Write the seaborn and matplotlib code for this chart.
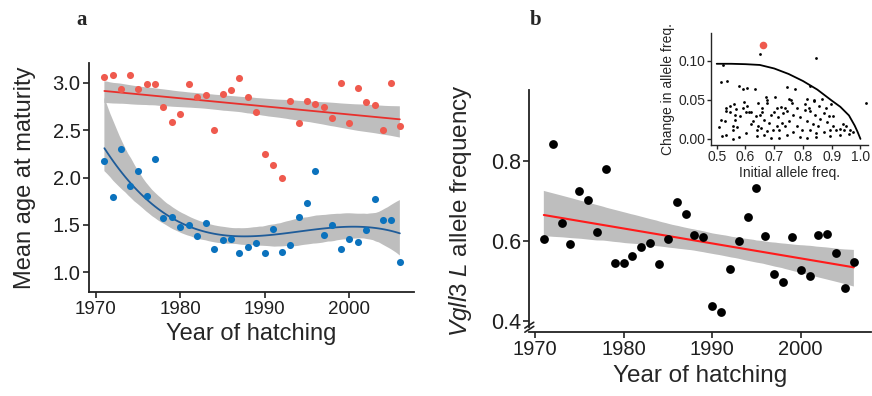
import numpy as np
import pandas as pd
import seaborn as sns
import matplotlib
matplotlib.use("Agg")
import matplotlib.pyplot as plt

sns.set_style("ticks")
plt.rcParams['font.family'] = ['Liberation Sans', 'DejaVu Sans']
plt.rcParams['mathtext.fontset'] = 'custom'
plt.rcParams['mathtext.it'] = 'Liberation Sans:italic'
plt.rcParams['mathtext.rm'] = 'Liberation Sans'

# # Data

years = list(range(1971, 2007))

# panel a: mean age at maturity (two groups)
age_red = [3.06, 3.08, 2.93, 3.08, 2.93, 2.99, 2.99, 2.74, 2.59, 2.67,
           2.99, 2.85, 2.87, 2.50, 2.88, 2.92, 3.05, 2.85, 2.69, 2.25,
           2.13, 2.00, 2.81, 2.58, 2.81, 2.78, 2.74, 2.63, 3.00, 2.58,
           2.95, 2.80, 2.77, 2.50, 3.00, 2.54]
age_blue = [2.18, 1.80, 2.30, 1.91, 2.07, 1.81, 2.20, 1.57, 1.58, 1.48,
            1.50, 1.38, 1.52, 1.25, 1.34, 1.35, 1.20, 1.27, 1.31, 1.20,
            1.46, 1.22, 1.29, 1.58, 1.73, 2.07, 1.39, 1.50, 1.25, 1.35,
            1.32, 1.45, 1.77, 1.55, 1.55, 1.11]

# panel b: Vgll3 L allele frequency
vgll3_freq = [0.606, 0.843, 0.644, 0.593, 0.725, 0.702, 0.623, 0.781, 0.545, 0.546,
              0.563, 0.584, 0.595, 0.542, 0.604, 0.698, 0.668, 0.615, 0.610, 0.437,
              0.423, 0.530, 0.599, 0.659, 0.732, 0.612, 0.518, 0.498, 0.610, 0.528,
              0.512, 0.616, 0.617, 0.571, 0.482, 0.548]

# inset: change in allele frequency vs initial frequency (loci)
init_freq = [0.517, 0.532, 0.558, 0.576, 0.639, 0.664, 0.688, 0.718, 0.743, 0.789,
             0.813, 0.847, 0.894, 0.928, 0.961, 0.975,
             0.509, 0.556, 0.569, 0.602, 0.639, 0.655, 0.674, 0.697, 0.715, 0.736,
             0.766, 0.796, 0.824, 0.847, 0.873, 0.894, 0.914, 0.928, 0.942, 0.963,
             0.514, 0.528, 0.558, 0.563, 0.618, 0.627, 0.644, 0.664, 0.683, 0.708,
             0.727, 0.752, 0.778, 0.813, 0.836, 0.854, 0.882, 0.905, 0.938, 0.951,
             0.532, 0.546, 0.565, 0.581, 0.602, 0.611, 0.637, 0.650, 0.657, 0.688,
             0.699, 0.713, 0.729, 0.743, 0.766, 0.789, 0.808, 0.826, 0.843, 0.859,
             0.873, 0.891, 0.905,
             0.532, 0.546, 0.560, 0.567, 0.590, 0.604, 0.620, 0.644, 0.657, 0.674,
             0.708, 0.725, 0.736, 0.762, 0.780, 0.808, 0.822, 0.838, 0.856, 0.880,
             0.650, 0.847, 0.523, 0.514, 0.537, 0.579, 0.590, 0.606, 0.632, 0.595,
             0.671, 0.676, 0.704, 0.745, 0.771, 0.824, 0.750, 0.757, 0.813, 0.840,
             0.866, 0.896, 1.020]
change_freq = [0.004, 0.005, 0.000, 0.002, 0.004, 0.005, 0.001, 0.001, 0.005, 0.002,
               0.001, 0.002, 0.004, 0.005, 0.006, 0.009,
               0.015, 0.011, 0.015, 0.008, 0.012, 0.014, 0.010, 0.011, 0.012, 0.016,
               0.009, 0.012, 0.011, 0.008, 0.009, 0.011, 0.012, 0.013, 0.011, 0.012,
               0.024, 0.023, 0.017, 0.024, 0.019, 0.023, 0.017, 0.024, 0.020, 0.017,
               0.020, 0.023, 0.017, 0.023, 0.019, 0.017, 0.022, 0.017, 0.019, 0.017,
               0.036, 0.035, 0.031, 0.029, 0.034, 0.034, 0.029, 0.031, 0.035, 0.030,
               0.034, 0.028, 0.033, 0.036, 0.030, 0.028, 0.037, 0.036, 0.030, 0.026,
               0.033, 0.029, 0.029,
               0.040, 0.042, 0.044, 0.038, 0.039, 0.042, 0.035, 0.046, 0.040, 0.046,
               0.040, 0.041, 0.040, 0.046, 0.039, 0.045, 0.040, 0.048, 0.042, 0.040,
               0.108, 0.104, 0.094, 0.073, 0.074, 0.068, 0.064, 0.065, 0.064, 0.047,
               0.053, 0.050, 0.054, 0.066, 0.064, 0.067, 0.051, 0.050, 0.051, 0.050,
               0.051, 0.044, 0.046]
vgll3_init = [0.662]
vgll3_change = [0.120]

# expected maximum change curve
curve_x = [0.50, 0.55, 0.60, 0.65, 0.70, 0.75, 0.80, 0.85, 0.90, 0.93, 0.96, 0.98, 0.99, 1.00]
curve_y = [0.096, 0.096, 0.0955, 0.0945, 0.090, 0.083, 0.074, 0.063, 0.049, 0.041, 0.030, 0.017, 0.009, 0.0]

RED_PT = '#ef5a4e'
BLUE_PT = '#0b72bd'
BAND = '#bebebe'


def smooth(ax, x, y, order, line_color, lw=1.3):
    sns.regplot(x=x, y=y, ax=ax, order=order, scatter=False, ci=95,
                n_boot=1000, seed=3, truncate=True,
                line_kws=dict(color=line_color, lw=lw, zorder=2))
    band = ax.collections[-1]
    band.set_facecolor(BAND)
    band.set_edgecolor('none')
    band.set_alpha(1)
    band.set_zorder(1)


def style_axes(ax, size, ysize):
    sns.despine(ax=ax)
    for s in ['left', 'bottom']:
        ax.spines[s].set_linewidth(1.3)
        ax.spines[s].set_color('#222222')
    ax.tick_params(labelsize=size, length=4, width=1.2, color='#222222',
                   labelcolor='#1e1e1e', pad=2)
    ax.tick_params(axis='y', labelsize=ysize)


fig = plt.figure(figsize=(8.72, 3.96), dpi=100)

# # Panel a
ax_a = fig.add_axes([0.102, 0.262, 0.373, 0.579])
smooth(ax_a, years, age_red, 1, '#e8302c')
smooth(ax_a, years, age_blue, 3, '#1f5c99')
ax_a.scatter(years, age_red, s=26, color=RED_PT, linewidths=0, zorder=3)
ax_a.scatter(years, age_blue, s=26, color=BLUE_PT, linewidths=0, zorder=3)
ax_a.set_xlim(1969.17, 2007.7)
ax_a.set_ylim(0.79, 3.21)
ax_a.set_xticks([1970, 1980, 1990, 2000])
ax_a.set_yticks([1.0, 1.5, 2.0, 2.5, 3.0])
ax_a.set_yticklabels(['1.0', '1.5', '2.0', '2.5', '3.0'])
style_axes(ax_a, 13.5, 14.5)
ax_a.set_xlabel('Year of hatching', fontsize=17, labelpad=4)
ax_a.set_ylabel('Mean age at maturity', fontsize=17, labelpad=12)

# # Panel b
ax_b = fig.add_axes([0.607, 0.1624, 0.392, 0.6103])
smooth(ax_b, years, vgll3_freq, 1, '#ff1a1a', lw=1.5)
ax_b.scatter(years, vgll3_freq, s=40, color='black', linewidths=0, zorder=3)
ax_b.set_xlim(1969.36, 2007.95)
ax_b.set_ylim(0.373, 0.9775)
ax_b.set_xticks([1970, 1980, 1990, 2000])
ax_b.set_yticks([0.4, 0.6, 0.8])
ax_b.set_yticklabels(['0.4', '0.6', '0.8'])
style_axes(ax_b, 14.5, 15.5)
ax_b.spines['left'].set_bounds(0.385, 0.9775)
for dy in [0.0, 0.017]:
    ax_b.plot([-0.013, 0.013], [-0.002 + dy, 0.022 + dy], transform=ax_b.transAxes,
              color='#222222', lw=1.2, clip_on=False)
ax_b.set_xlabel('Year of hatching', fontsize=17.5, labelpad=4)
ax_b.set_ylabel(r'$\mathit{Vgll3}$ $\mathit{L}$ allele frequency', fontsize=17.5, labelpad=12)

# # Inset
ax_in = fig.add_axes([0.815, 0.634, 0.18, 0.282])
ax_in.set_facecolor('none')
sns.lineplot(x=curve_x, y=curve_y, ax=ax_in, color='black', lw=1.3)
sns.scatterplot(x=init_freq, y=change_freq, ax=ax_in, s=4, color='black',
                linewidth=0, zorder=3)
sns.scatterplot(x=vgll3_init, y=vgll3_change, ax=ax_in, s=30, color=RED_PT,
                linewidth=0, zorder=4)
ax_in.set_xlim(0.479, 1.025)
ax_in.set_ylim(-0.0077, 0.135)
ax_in.set_xticks([0.5, 0.6, 0.7, 0.8, 0.9, 1.0])
ax_in.set_xticklabels(['0.5', '0.6', '0.7', '0.8', '0.9', '1.0'])
ax_in.set_yticks([0.0, 0.05, 0.10])
ax_in.set_yticklabels(['0.00', '0.05', '0.10'])
sns.despine(ax=ax_in)
for s in ['left', 'bottom']:
    ax_in.spines[s].set_linewidth(1.0)
ax_in.tick_params(labelsize=10, length=3, width=1.0, pad=1)
ax_in.set_xlabel('Initial allele freq.', fontsize=10, labelpad=1)
ax_in.set_ylabel('Change in allele freq.', fontsize=10, labelpad=2)

# panel letters
fig.text(82 / 872, 1 - 20 / 396, 'a', family='Liberation Serif', weight='bold',
         fontsize=15, ha='center', va='center')
fig.text(536 / 872, 1 - 20 / 396, 'b', family='Liberation Serif', weight='bold',
         fontsize=15, ha='center', va='center')

fig.savefig('out.png', dpi=100)
